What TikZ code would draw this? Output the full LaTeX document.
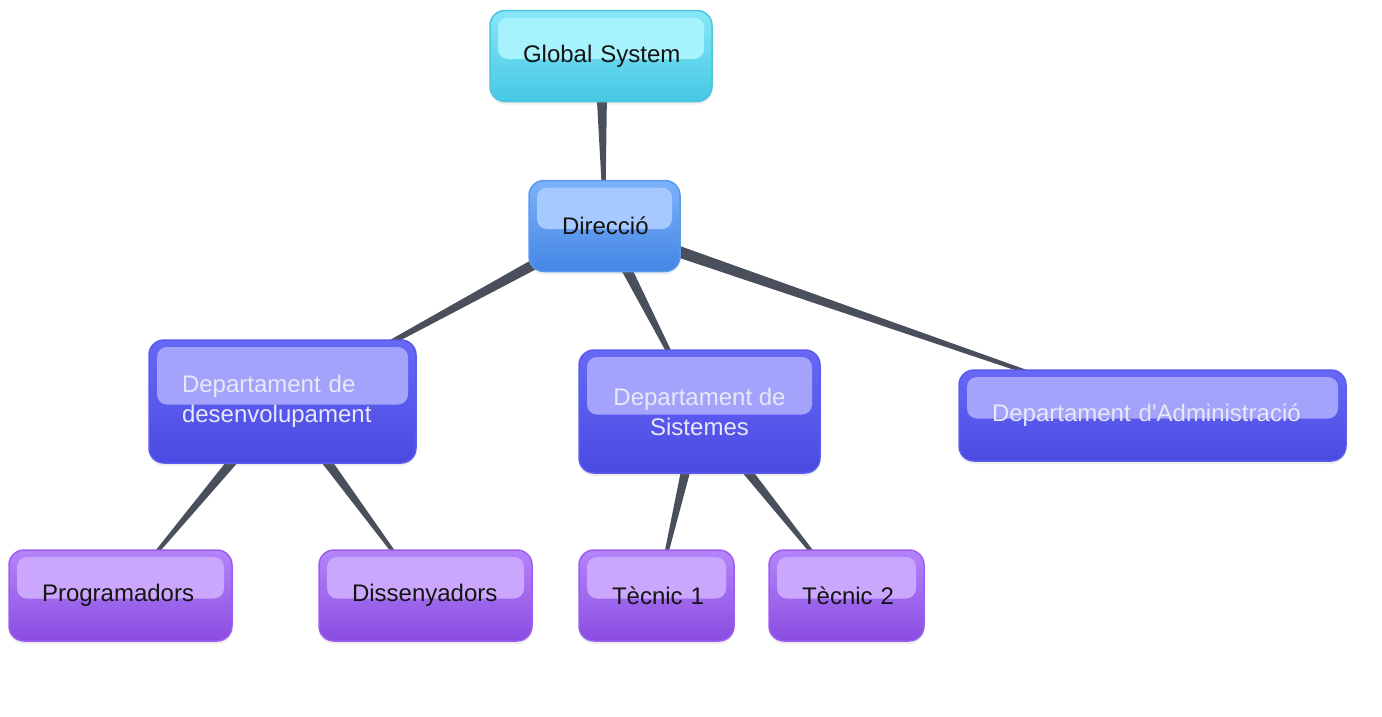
\documentclass[tikz,border=0pt]{standalone}
\usepackage{fontspec}
\setmainfont{Liberation Sans}[Ligatures=TeXOff]
\usetikzlibrary{calc,backgrounds,shadows}
\definecolor{conn}{HTML}{4A4F5C}
\definecolor{txtdark}{HTML}{141414}
\definecolor{txtlight}{HTML}{E8E8F8}
\definecolor{gsb}{HTML}{4FC3DC}\definecolor{gst}{HTML}{86E7F8}\definecolor{gsbot}{HTML}{45C8E4}\definecolor{gsh}{HTML}{A6F2FD}
\definecolor{dib}{HTML}{5A98EC}\definecolor{dit}{HTML}{7CB2FA}\definecolor{dibot}{HTML}{4486E4}\definecolor{dih}{HTML}{A6C9FF}
\definecolor{deb}{HTML}{5A5AEC}\definecolor{det}{HTML}{6868F6}\definecolor{debot}{HTML}{4A4AE2}\definecolor{deh}{HTML}{A3A3FC}
\definecolor{lfb}{HTML}{9B5DED}\definecolor{lft}{HTML}{B585FB}\definecolor{lfbot}{HTML}{8A4CE0}\definecolor{lfh}{HTML}{CBA6FD}
\newcommand\taper[2]{%
  \fill[conn] let \p1=(#1.center), \p2=(#2.center), \n1={atan2(\y2-\y1,\x2-\x1)} in
    ($(\p1)+(\n1+90:6.5pt)$) -- ($(\p2)+(\n1+90:0.6pt)$) -- ($(\p2)+(\n1-90:0.6pt)$) -- ($(\p1)+(\n1-90:6.5pt)$) -- cycle;}
\tikzset{
  box/.style={rectangle, rounded corners=15pt, draw, line width=1.5pt, inner sep=0pt,
    font=\fontsize{24}{30}\selectfont, minimum height=93pt,
    drop shadow={opacity=0.13, shadow xshift=0pt, shadow yshift=-3pt}},
  lw/.style 2 args={minimum width=#1, text width=#2, align=left},
  hl/.style={path picture={\fill[#1, rounded corners=10pt]
      ([xshift=8pt,yshift=-7pt]path picture bounding box.north west) rectangle
      ([xshift=-8pt,yshift=-3pt]path picture bounding box.east);}},
  gsbox/.style={box, draw=gsb, top color=gst, bottom color=gsbot, hl=gsh, text=txtdark},
  dibox/.style={box, draw=dib, top color=dit, bottom color=dibot, hl=dih, text=txtdark},
  debox/.style={box, draw=deb, top color=det, bottom color=debot, hl=deh, text=txtlight},
  lfbox/.style={box, draw=lfb, top color=lft, bottom color=lfbot, hl=lfh, text=txtdark},
}
\begin{document}
\begin{tikzpicture}[x=1pt,y=-1pt]
\useasboundingbox (0,0) rectangle (1382,716);
\node[gsbox, lw={222pt}{156pt}, minimum height=91pt] (gs) at (601,56) {\mbox{Global System}};
\node[dibox, lw={151pt}{85pt}, minimum height=91pt] (dir) at (604.5,226) {\mbox{Direcció}};
\node[debox, lw={267pt}{201pt}, minimum height=123pt] (dev) at (282.5,401.5) {Departament de\\desenvolupament};
\node[debox, minimum width=241pt, minimum height=123pt, align=center] (sis) at (699.5,411.5) {Departament de\\Sistemes};
\node[debox, lw={387pt}{321pt}, minimum height=91pt] (adm) at (1152.5,415.5) {\mbox{Departament d'Administració}};
\node[lfbox, lw={223pt}{157pt}, minimum height=91pt] (prog) at (120.5,595.5) {\mbox{Programadors}};
\node[lfbox, lw={213pt}{147pt}, minimum height=91pt] (dis) at (425.5,595.5) {\mbox{Dissenyadors}};
\node[lfbox, lw={155pt}{89pt}, minimum height=91pt] (t1) at (656.5,595.5) {\mbox{Tècnic 1}};
\node[lfbox, lw={155pt}{89pt}, minimum height=91pt] (t2) at (846.5,595.5) {\mbox{Tècnic 2}};
\begin{scope}[on background layer]
\taper{gs}{dir}
\taper{dir}{dev}
\taper{dir}{sis}
\taper{dir}{adm}
\taper{dev}{prog}
\taper{dev}{dis}
\taper{sis}{t1}
\taper{sis}{t2}
\end{scope}
\end{tikzpicture}
\end{document}
